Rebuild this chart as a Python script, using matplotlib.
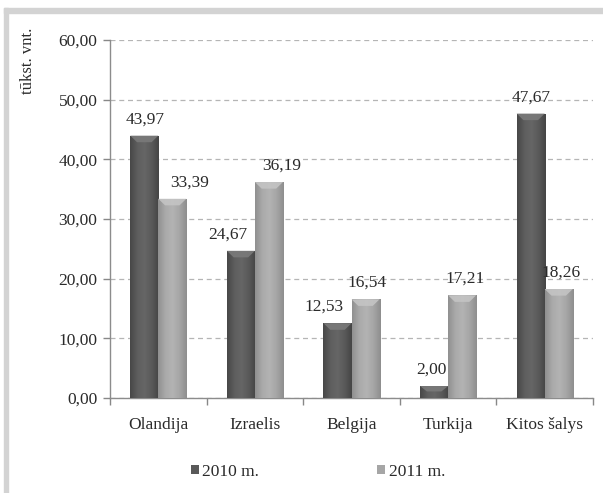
import numpy as np
import matplotlib
matplotlib.use('Agg')
import matplotlib.pyplot as plt
from matplotlib.colors import LinearSegmentedColormap
from matplotlib.patches import Rectangle, Polygon, Patch

plt.rcParams['font.family'] = ['Liberation Serif', 'DejaVu Serif']

""" data """
countries = ['Olandija', 'Izraelis', 'Belgija', 'Turkija', 'Kitos šalys']
v2010 = [43.97, 24.67, 12.53, 2.00, 47.67]
v2011 = [33.39, 36.19, 16.54, 17.21, 18.26]
series_names = ['2010 m.', '2011 m.']
y_ticks = [0, 10, 20, 30, 40, 50, 60]

""" styles """
dark_cmap = LinearSegmentedColormap.from_list(
    'dark', ['#474747', '#5e5e5e', '#666666', '#5a5a5a', '#454545'])
light_cmap = LinearSegmentedColormap.from_list(
    'light', ['#909090', '#aaaaaa', '#b3b3b3', '#a6a6a6', '#8e8e8e'])
bevel_cols = ['#7a7a7a', '#c4c4c4']
txt_col = '#2a2a2a'
bar_w = 0.29
# horizontal nudge of the value labels (pixels), like the label layout of the original
label_nudge = [[1, -13, -13, -3, 0],
               [17, 13, 2, 3, 2]]

fig = plt.figure(figsize=(6.03, 4.93), dpi=100)
ax = fig.add_axes([110/603, 1-398/493, (593-110)/603, (398-40)/493])

# grey frame on top / left edge
fig.patches.append(Rectangle((4/603, 0), 4/603, 1-8/493, transform=fig.transFigure,
                             color='#d3d3d3', zorder=0))
fig.patches.append(Rectangle((4/603, 1-13/493), 1, 5/493, transform=fig.transFigure,
                             color='#d3d3d3', zorder=0))

x = np.arange(len(countries))
grad = np.linspace(0, 1, 64).reshape(1, -1)

for i, (vals, cmap) in enumerate([(v2010, dark_cmap), (v2011, light_cmap)]):
    offs = (i - 0.5) * bar_w
    bars = ax.bar(x + offs, vals, bar_w, color='none', edgecolor='none', zorder=3)
    for j, (b, v) in enumerate(zip(bars, vals)):
        x0 = b.get_x()
        x1 = x0 + b.get_width()
        im = ax.imshow(grad, cmap=cmap, aspect='auto', extent=[x0, x1, 0, v],
                       zorder=3, interpolation='bicubic')
        im.set_clip_path(b)
        # top bevel
        d = 0.07
        bh = min(1.1, v * 0.45)
        ax.add_patch(Polygon([(x0, v), (x1, v), (x1 - d, v - bh), (x0 + d, v - bh)],
                             closed=True, facecolor=bevel_cols[i], edgecolor='none',
                             zorder=4, alpha=0.9))
        ax.annotate(f'{v:.2f}'.replace('.', ','), (b.get_x() + bar_w / 2, v),
                    xytext=(label_nudge[i][j] * 0.72, 6), textcoords='offset points',
                    ha='center', va='bottom', fontsize=12.5, color=txt_col, zorder=5)

ax.set_xlim(-0.5, len(countries) - 0.5)
ax.set_ylim(0, 60)
ax.set_yticks(y_ticks)
ax.set_yticklabels([f'{t:.2f}'.replace('.', ',') for t in y_ticks])
ax.set_xticks(x)
ax.set_xticklabels(countries)
ax.set_xticks(np.arange(len(countries) + 1) - 0.5, minor=True)
ax.tick_params(axis='x', which='major', length=0, pad=14, labelsize=12.5, colors=txt_col)
ax.tick_params(axis='x', which='minor', length=5, width=1, color='#888888')
ax.tick_params(axis='y', length=5, width=1, color='#888888', labelsize=12.5,
               labelcolor=txt_col, pad=4)

ax.grid(axis='y', linestyle=(0, (4, 3)), color='#b5b5b5', linewidth=0.9, zorder=0)
ax.set_axisbelow(True)
for s in ['top', 'right']:
    ax.spines[s].set_visible(False)
for s in ['left', 'bottom']:
    ax.spines[s].set_color('#8c8c8c')
    ax.spines[s].set_linewidth(1)

fig.text(28/603, 1-28/493, 'tūkst. vnt.', rotation=90, ha='center', va='top',
         fontsize=12, color=txt_col)

handles = [Patch(facecolor='#595959', edgecolor='none'),
           Patch(facecolor='#a6a6a6', edgecolor='none')]
fig.legend(handles, series_names, loc='center', bbox_to_anchor=(318/603, 1-472/493),
           ncol=2, frameon=False, fontsize=12.5, handlelength=0.45, handleheight=0.45,
           handletextpad=0.2, columnspacing=6.8, labelcolor=txt_col)

fig.savefig('out.png', dpi=100)
